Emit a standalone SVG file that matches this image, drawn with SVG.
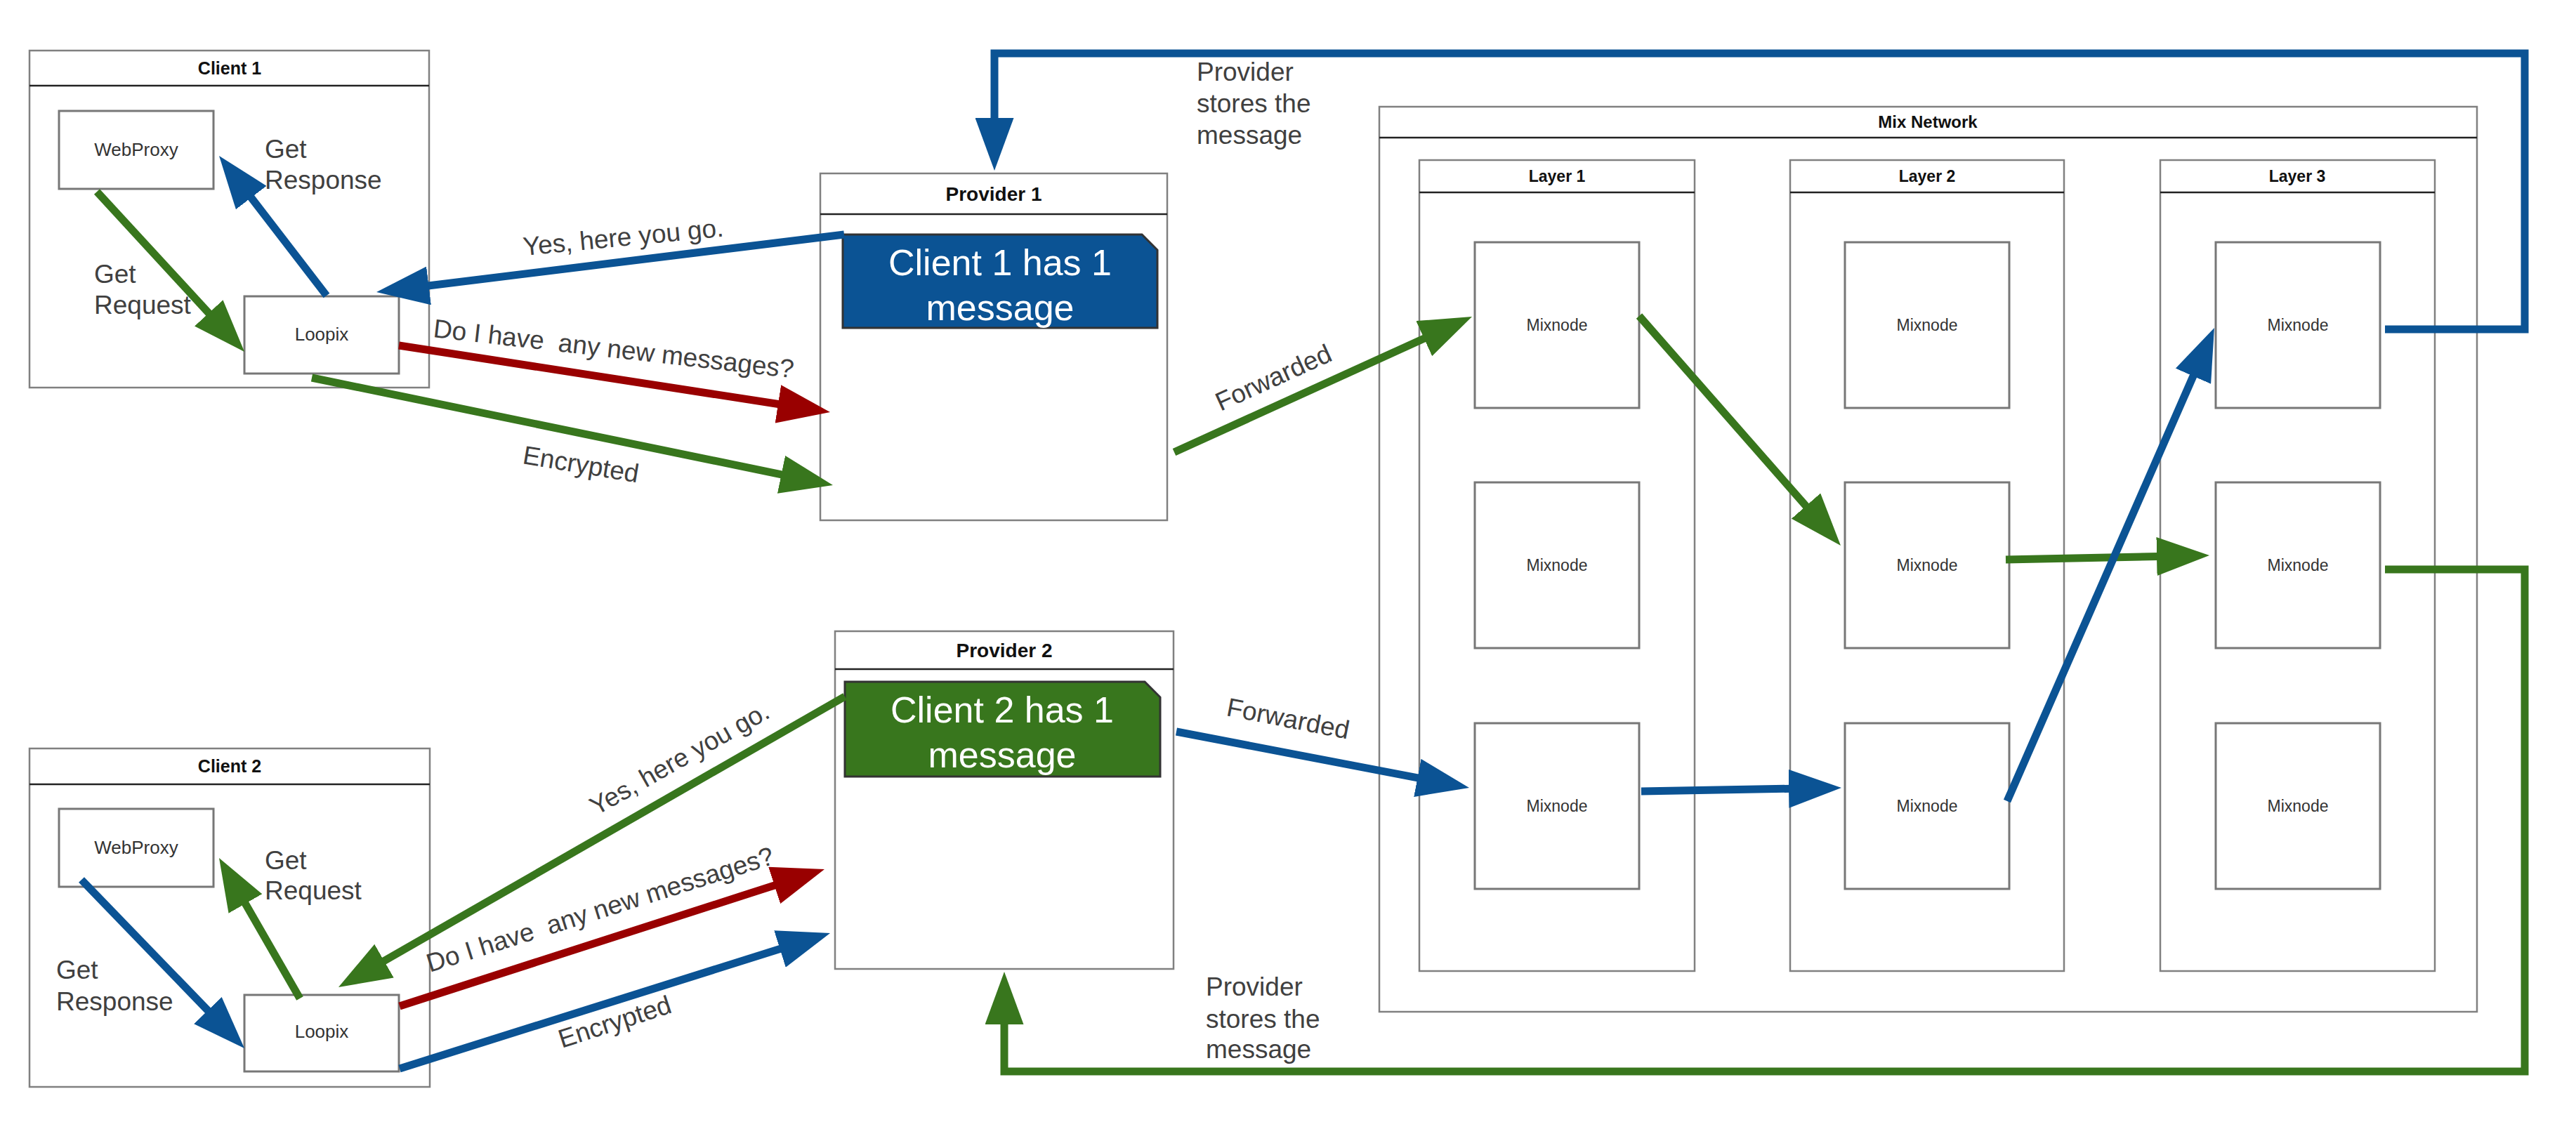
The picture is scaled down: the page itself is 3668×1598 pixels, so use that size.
<svg xmlns="http://www.w3.org/2000/svg" width="3668" height="1598" viewBox="0 0 3668 1598">
<style>
.box{fill:#fff;stroke:#808080;stroke-width:2.5}
.inner{fill:#fff;stroke:#777;stroke-width:3}
.hdr{stroke:#222;stroke-width:2.5}
.title{font-family:"Liberation Sans",Arial,sans-serif;font-weight:bold;fill:#111;text-anchor:middle}
.node{font-family:"Liberation Sans",Arial,sans-serif;fill:#333;text-anchor:middle}
.lbl{font-family:"Liberation Sans",Arial,sans-serif;font-size:37px;fill:#404040;white-space:pre}
.msg{font-family:"Liberation Sans",Arial,sans-serif;font-size:52px;fill:#fff;text-anchor:middle}
.c{fill:none;stroke-width:11;stroke-linejoin:miter}
.g{stroke:#38761d}.b{stroke:#0b5394}.r{stroke:#990000}
</style>
<defs>
<marker id="mg" markerUnits="userSpaceOnUse" markerWidth="75" markerHeight="55" viewBox="0 0 75 55" refX="15" refY="27.5" orient="auto"><path d="M0,0 L75,27.5 L0,55 z" fill="#38761d"/></marker>
<marker id="mb" markerUnits="userSpaceOnUse" markerWidth="75" markerHeight="55" viewBox="0 0 75 55" refX="15" refY="27.5" orient="auto"><path d="M0,0 L75,27.5 L0,55 z" fill="#0b5394"/></marker>
<marker id="mr" markerUnits="userSpaceOnUse" markerWidth="75" markerHeight="55" viewBox="0 0 75 55" refX="15" refY="27.5" orient="auto"><path d="M0,0 L75,27.5 L0,55 z" fill="#990000"/></marker>
</defs>
<rect width="3668" height="1598" fill="#fff"/>

<g id="client1">
<rect class="box" x="42" y="72" width="569" height="480"/>
<line class="hdr" x1="42" y1="122" x2="611" y2="122"/>
<text class="title" x="327" y="106" font-size="25">Client 1</text>
</g>
<g id="webproxy1">
<rect class="inner" x="84" y="158" width="220" height="111"/>
<text class="node" x="194" y="222" font-size="26">WebProxy</text>
</g>
<g id="loopix1">
<rect class="inner" x="348" y="422" width="220" height="110"/>
<text class="node" x="458" y="485" font-size="26">Loopix</text>
</g>

<g id="client2">
<rect class="box" x="42" y="1066" width="570" height="482"/>
<line class="hdr" x1="42" y1="1117" x2="612" y2="1117"/>
<text class="title" x="327" y="1100" font-size="25">Client 2</text>
</g>
<g id="webproxy2">
<rect class="inner" x="84" y="1152" width="220" height="111"/>
<text class="node" x="194" y="1216" font-size="26">WebProxy</text>
</g>
<g id="loopix2">
<rect class="inner" x="348" y="1417" width="220" height="109"/>
<text class="node" x="458" y="1478" font-size="26">Loopix</text>
</g>

<g id="provider1">
<rect class="box" x="1168" y="247" width="494" height="494"/>
<line class="hdr" x1="1168" y1="305" x2="1662" y2="305"/>
<text class="title" x="1415" y="286" font-size="28">Provider 1</text>
</g>
<g id="message1">
<polygon points="1200,334 1626,334 1648,356 1648,467 1200,467" fill="#0b5394" stroke="#333" stroke-width="3"/>
<text class="msg" x="1424" y="392">Client 1 has 1</text>
<text class="msg" x="1424" y="456">message</text>
</g>

<g id="provider2">
<rect class="box" x="1189" y="899" width="482" height="481"/>
<line class="hdr" x1="1189" y1="953" x2="1671" y2="953"/>
<text class="title" x="1430" y="936" font-size="28">Provider 2</text>
</g>
<g id="message2">
<polygon points="1203,971 1630,971 1652,993 1652,1106 1203,1106" fill="#38761d" stroke="#333" stroke-width="3"/>
<text class="msg" x="1427" y="1029">Client 2 has 1</text>
<text class="msg" x="1427" y="1093">message</text>
</g>

<g id="mixnetwork">
<rect class="box" x="1964" y="152" width="1563" height="1289" stroke="#999"/>
<line class="hdr" x1="1964" y1="196" x2="3527" y2="196"/>
<text class="title" x="2745" y="182" font-size="24">Mix Network</text>
</g>
<g id="layer1">
<rect class="box" x="2021" y="228" width="392" height="1155"/>
<line class="hdr" x1="2021" y1="274" x2="2413" y2="274"/>
<text class="title" x="2217" y="259" font-size="23">Layer 1</text>
</g>
<g id="layer2">
<rect class="box" x="2549" y="228" width="390" height="1155"/>
<line class="hdr" x1="2549" y1="274" x2="2939" y2="274"/>
<text class="title" x="2744" y="259" font-size="23">Layer 2</text>
</g>
<g id="layer3">
<rect class="box" x="3076" y="228" width="391" height="1155"/>
<line class="hdr" x1="3076" y1="274" x2="3467" y2="274"/>
<text class="title" x="3271" y="259" font-size="23">Layer 3</text>
</g>

<g id="mix-l1-r1"><rect class="inner" x="2100" y="345" width="234" height="236"/><text class="node" x="2217" y="471" font-size="23">Mixnode</text></g>
<g id="mix-l1-r2"><rect class="inner" x="2100" y="687" width="234" height="236"/><text class="node" x="2217" y="813" font-size="23">Mixnode</text></g>
<g id="mix-l1-r3"><rect class="inner" x="2100" y="1030" width="234" height="236"/><text class="node" x="2217" y="1156" font-size="23">Mixnode</text></g>
<g id="mix-l2-r1"><rect class="inner" x="2627" y="345" width="234" height="236"/><text class="node" x="2744" y="471" font-size="23">Mixnode</text></g>
<g id="mix-l2-r2"><rect class="inner" x="2627" y="687" width="234" height="236"/><text class="node" x="2744" y="813" font-size="23">Mixnode</text></g>
<g id="mix-l2-r3"><rect class="inner" x="2627" y="1030" width="234" height="236"/><text class="node" x="2744" y="1156" font-size="23">Mixnode</text></g>
<g id="mix-l3-r1"><rect class="inner" x="3155" y="345" width="234" height="236"/><text class="node" x="3272" y="471" font-size="23">Mixnode</text></g>
<g id="mix-l3-r2"><rect class="inner" x="3155" y="687" width="234" height="236"/><text class="node" x="3272" y="813" font-size="23">Mixnode</text></g>
<g id="mix-l3-r3"><rect class="inner" x="3155" y="1030" width="234" height="236"/><text class="node" x="3272" y="1156" font-size="23">Mixnode</text></g>

<g id="connectors">
<path class="c g" d="M138,273 L307.4,456.9" marker-end="url(#mg)"/>
<path class="c b" d="M465,421 L348.6,269.6" marker-end="url(#mb)"/>
<path class="c b" d="M1202,334 L595.6,408.7" marker-end="url(#mb)"/>
<path class="c r" d="M568,492 L1122.7,577.8" marker-end="url(#mr)"/>
<path class="c g" d="M444,538 L1127.2,678.9" marker-end="url(#mg)"/>
<path class="c g" d="M1672,644 L2041.4,475.9" marker-end="url(#mg)"/>
<path class="c b" d="M3396,469 L3595,469 L3595,76 L1416,76 L1416,183" marker-end="url(#mb)"/>
<path class="c g" d="M2334,450 L2581.4,731.9" marker-end="url(#mg)"/>
<path class="c g" d="M2856,797 L3086,792.2" marker-end="url(#mg)"/>
<path class="c b" d="M2858,1141 L3128.9,522" stroke-width="8" marker-end="url(#mb)"/>
<path class="c g" d="M3396,811 L3595,811 L3595,1526 L1430,1526 L1430,1444" marker-end="url(#mg)"/>
<path class="c b" d="M1675,1042 L2033.1,1110.7" marker-end="url(#mb)"/>
<path class="c b" d="M2337,1127 L2562,1123" marker-end="url(#mb)"/>
<path class="c b" d="M116,1253 L306.3,1449.9" marker-end="url(#mb)"/>
<path class="c g" d="M427,1422 L341.9,1274" marker-end="url(#mg)"/>
<path class="c g" d="M1203,992 L534,1376.1" marker-end="url(#mg)"/>
<path class="c r" d="M569,1433 L1116.9,1256.4" marker-end="url(#mr)"/>
<path class="c b" d="M569,1522 L1124.8,1347" marker-end="url(#mb)"/>
</g>

<g id="labels">
<text class="lbl" x="377" y="225">Get</text>
<text class="lbl" x="377" y="269">Response</text>
<text class="lbl" x="134" y="403">Get</text>
<text class="lbl" x="134" y="447">Request</text>
<text class="lbl" x="746" y="364" transform="rotate(-5.5 746 364)">Yes, here you go.</text>
<text class="lbl" x="616" y="480" transform="rotate(6.5 616 480)">Do I have  any new messages?</text>
<text class="lbl" x="743" y="660" transform="rotate(9.5 743 660)">Encrypted</text>
<text class="lbl" x="1738" y="586" transform="rotate(-24.5 1738 586)">Forwarded</text>
<text class="lbl" x="1704" y="115">Provider</text>
<text class="lbl" x="1704" y="160">stores the</text>
<text class="lbl" x="1704" y="205">message</text>
<text class="lbl" x="377" y="1238">Get</text>
<text class="lbl" x="377" y="1281">Request</text>
<text class="lbl" x="80" y="1394">Get</text>
<text class="lbl" x="80" y="1439">Response</text>
<text class="lbl" x="849" y="1162" transform="rotate(-29.5 849 1162)">Yes, here you go.</text>
<text class="lbl" x="612" y="1385" transform="rotate(-17.5 612 1385)">Do I have  any new messages?</text>
<text class="lbl" x="800" y="1493" transform="rotate(-18 800 1493)">Encrypted</text>
<text class="lbl" x="1745" y="1019" transform="rotate(11 1745 1019)">Forwarded</text>
<text class="lbl" x="1717" y="1418">Provider</text>
<text class="lbl" x="1717" y="1464">stores the</text>
<text class="lbl" x="1717" y="1507">message</text>
</g>
</svg>
